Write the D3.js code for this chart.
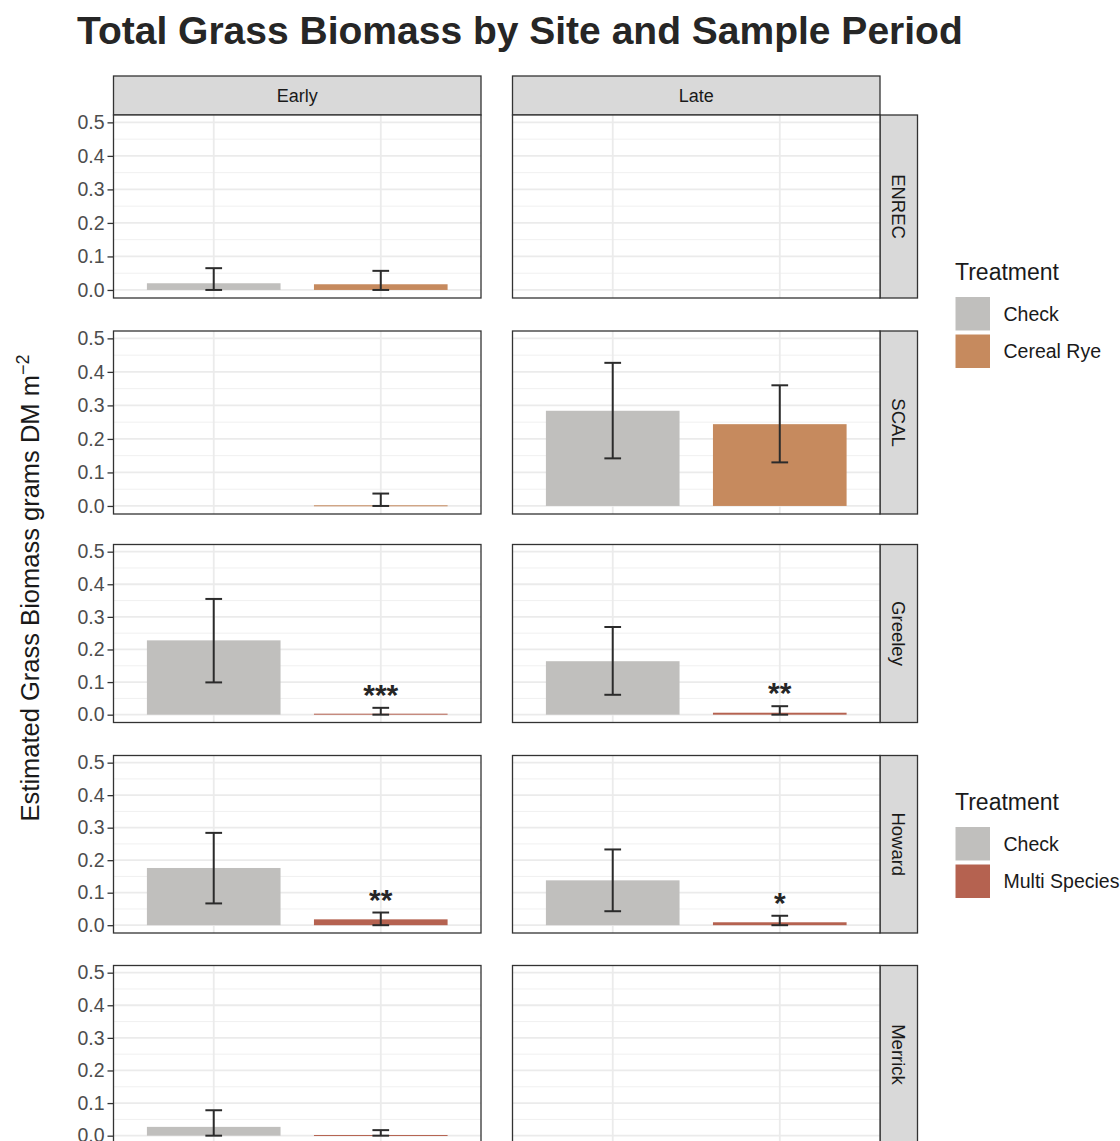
<!DOCTYPE html>
<html>
<head>
<meta charset="utf-8">
<script src="https://cdn.jsdelivr.net/npm/d3@7"></script>
<style>
  body { margin: 0; background: #fff; }
  svg text { font-family: "Liberation Sans", Arial, sans-serif; }
</style>
</head>
<body>
<svg id="chart" width="1120" height="1141"></svg>
<script>
// facets
var sites = ["ENREC", "SCAL", "Greeley", "Howard", "Merrick"];
var periods = ["Early", "Late"];
var yTicks = [0, 0.1, 0.2, 0.3, 0.4, 0.5];
var yMinor = [0.05, 0.15, 0.25, 0.35, 0.45];

// one entry per bar
var recSite      = ["ENREC", "ENREC", "SCAL", "SCAL", "SCAL", "Greeley", "Greeley", "Greeley", "Greeley", "Howard", "Howard", "Howard", "Howard", "Merrick", "Merrick"];
var recPeriod    = ["Early", "Early", "Early", "Late", "Late", "Early", "Early", "Late", "Late", "Early", "Early", "Late", "Late", "Early", "Early"];
var recTreatment = ["Check", "Cereal Rye", "Cereal Rye", "Check", "Cereal Rye", "Check", "Multi Species", "Check", "Multi Species", "Check", "Multi Species", "Check", "Multi Species", "Check", "Multi Species"];
var recMean      = [0.020, 0.017, 0.002, 0.284, 0.244, 0.228, 0.003, 0.164, 0.006, 0.176, 0.018, 0.138, 0.009, 0.027, 0.002];
var recLower     = [0.000, 0.000, 0.000, 0.142, 0.130, 0.099, 0.000, 0.061, 0.000, 0.067, 0.000, 0.043, 0.000, 0.000, 0.000];
var recUpper     = [0.065, 0.057, 0.037, 0.427, 0.360, 0.355, 0.021, 0.269, 0.026, 0.284, 0.039, 0.233, 0.029, 0.078, 0.017];
var recSig       = ["", "", "", "", "", "", "***", "", "**", "", "**", "", "*", "", ""];

var treatColors = { "Check": "#C0BFBD", "Cereal Rye": "#C68A5E", "Multi Species": "#B56250" };
var legend1 = ["Check", "Cereal Rye"];
var legend2 = ["Check", "Multi Species"];

var data = recSite.map(function(s, i) {
  return { site: s, period: recPeriod[i], treatment: recTreatment[i],
           mean: recMean[i], lower: recLower[i], upper: recUpper[i], sig: recSig[i] };
});

var svg = d3.select("#chart");

// layout
var colX = [113.5, 512.5], panelW = 367.5;
var rowTop = [115, 331, 544.5, 755.5, 965.5];
var rowH = [183, 183, 178, 177.5, 178];
var stripH = 39, stripW = 37.5;

var x = d3.scalePoint().domain(["Check", "Treated"]).range([0, panelW]).padding(0.6);
var step = x.step();
var xKey = function(t) { return t === "Check" ? "Check" : "Treated"; };

// title
svg.append("text")
  .attr("x", 77).attr("y", 44)
  .attr("font-size", 39).attr("font-weight", "bold").attr("fill", "#262626")
  .text("Total Grass Biomass by Site and Sample Period");

// column strips
periods.forEach(function(p, ci) {
  var g = svg.append("g").attr("transform", "translate(" + colX[ci] + "," + (rowTop[0] - stripH) + ")");
  g.append("rect").attr("width", panelW).attr("height", stripH)
    .attr("fill", "#D9D9D9").attr("stroke", "#333").attr("stroke-width", 1.3);
  g.append("text").attr("x", panelW / 2).attr("y", stripH / 2 + 6)
    .attr("text-anchor", "middle").attr("font-size", 18).attr("fill", "#1a1a1a").text(p);
});

sites.forEach(function(site, ri) {
  var y = d3.scaleLinear().domain([-0.024, 0.522]).range([rowTop[ri] + rowH[ri], rowTop[ri]]);

  // row strip
  var sx = colX[1] + panelW;
  var sg = svg.append("g").attr("transform", "translate(" + sx + "," + rowTop[ri] + ")");
  sg.append("rect").attr("width", stripW).attr("height", rowH[ri])
    .attr("fill", "#D9D9D9").attr("stroke", "#333").attr("stroke-width", 1.3);
  sg.append("text")
    .attr("transform", "translate(" + (stripW / 2 - 6.5) + "," + (rowH[ri] / 2) + ") rotate(90)")
    .attr("text-anchor", "middle").attr("font-size", 18.5).attr("fill", "#1a1a1a").text(site);

  periods.forEach(function(p, ci) {
    var g = svg.append("g").attr("transform", "translate(" + colX[ci] + ",0)");
    g.append("rect").attr("y", rowTop[ri]).attr("width", panelW).attr("height", rowH[ri]).attr("fill", "#fff");

    g.selectAll(".minor").data(yMinor).enter().append("line")
      .attr("x1", 0).attr("x2", panelW)
      .attr("y1", function(d) { return y(d); }).attr("y2", function(d) { return y(d); })
      .attr("stroke", "#F0F0F0").attr("stroke-width", 1);
    g.selectAll(".major").data(yTicks).enter().append("line")
      .attr("x1", 0).attr("x2", panelW)
      .attr("y1", function(d) { return y(d); }).attr("y2", function(d) { return y(d); })
      .attr("stroke", "#EBEBEB").attr("stroke-width", 1.8);
    g.selectAll(".vgrid").data(x.domain()).enter().append("line")
      .attr("x1", function(d) { return x(d); }).attr("x2", function(d) { return x(d); })
      .attr("y1", rowTop[ri]).attr("y2", rowTop[ri] + rowH[ri])
      .attr("stroke", "#EBEBEB").attr("stroke-width", 1.8);

    var sub = data.filter(function(d) { return d.site === site && d.period === p; });

    g.selectAll(".bar").data(sub).enter().append("rect")
      .attr("x", function(d) { return x(xKey(d.treatment)) - step * 0.4; })
      .attr("width", step * 0.8)
      .attr("y", function(d) { return y(d.mean); })
      .attr("height", function(d) { return Math.max(1, y(0) - y(d.mean)); })
      .attr("fill", function(d) { return treatColors[d.treatment]; });

    var eb = g.selectAll(".err").data(sub).enter().append("g")
      .attr("stroke", "#2b2b2b").attr("stroke-width", 2);
    eb.append("line")
      .attr("x1", function(d) { return x(xKey(d.treatment)); })
      .attr("x2", function(d) { return x(xKey(d.treatment)); })
      .attr("y1", function(d) { return y(d.lower); })
      .attr("y2", function(d) { return y(d.upper); });
    eb.append("line")
      .attr("x1", function(d) { return x(xKey(d.treatment)) - step * 0.05; })
      .attr("x2", function(d) { return x(xKey(d.treatment)) + step * 0.05; })
      .attr("y1", function(d) { return y(d.upper); })
      .attr("y2", function(d) { return y(d.upper); });
    eb.append("line")
      .attr("x1", function(d) { return x(xKey(d.treatment)) - step * 0.05; })
      .attr("x2", function(d) { return x(xKey(d.treatment)) + step * 0.05; })
      .attr("y1", function(d) { return y(d.lower); })
      .attr("y2", function(d) { return y(d.lower); });

    g.selectAll(".sig").data(sub.filter(function(d) { return d.sig; })).enter().append("text")
      .attr("x", function(d) { return x(xKey(d.treatment)); })
      .attr("y", function(d) { return y(d.upper) - 3; })
      .attr("text-anchor", "middle").attr("font-size", 30).attr("font-weight", "bold").attr("fill", "#262626")
      .text(function(d) { return d.sig; });

    g.append("rect").attr("y", rowTop[ri]).attr("width", panelW).attr("height", rowH[ri])
      .attr("fill", "none").attr("stroke", "#333").attr("stroke-width", 1.3);

    if (ci === 0) {
      var ax = g.append("g").call(d3.axisLeft(y).tickValues(yTicks).tickFormat(d3.format(".1f")).tickSize(6).tickPadding(3));
      ax.select(".domain").remove();
      ax.selectAll("line").attr("stroke", "#333").attr("stroke-width", 1.3);
      ax.selectAll("text").attr("font-size", 19.5).attr("fill", "#4d4d4d")
        .attr("font-family", "Liberation Sans, Arial, sans-serif");
    }
  });
});

// y axis title
var yt = svg.append("text")
  .attr("transform", "translate(39,588) rotate(-90)")
  .attr("text-anchor", "middle").attr("font-size", 25.5).attr("fill", "#1a1a1a");
yt.append("tspan").text("Estimated Grass Biomass grams DM m");
yt.append("tspan").attr("dy", -10).attr("font-size", 18).text("\u22122");

// legends
function drawLegend(items, lx, ly) {
  var g = svg.append("g").attr("transform", "translate(" + lx + "," + ly + ")");
  g.append("text").attr("x", 0).attr("y", 0).attr("font-size", 23).attr("fill", "#1a1a1a").text("Treatment");
  var it = g.selectAll(".key").data(items).enter().append("g")
    .attr("transform", function(d, i) { return "translate(0," + (16.5 + i * 37.5) + ")"; });
  it.append("rect").attr("width", 35.5).attr("height", 34.5)
    .attr("fill", function(d) { return treatColors[d]; }).attr("stroke", "#fff").attr("stroke-width", 1);
  it.append("text").attr("x", 48.5).attr("y", 24).attr("font-size", 19.5).attr("fill", "#1a1a1a").text(function(d) { return d; });
}
drawLegend(legend1, 955, 280);
drawLegend(legend2, 955, 810);
</script>
</body>
</html>
